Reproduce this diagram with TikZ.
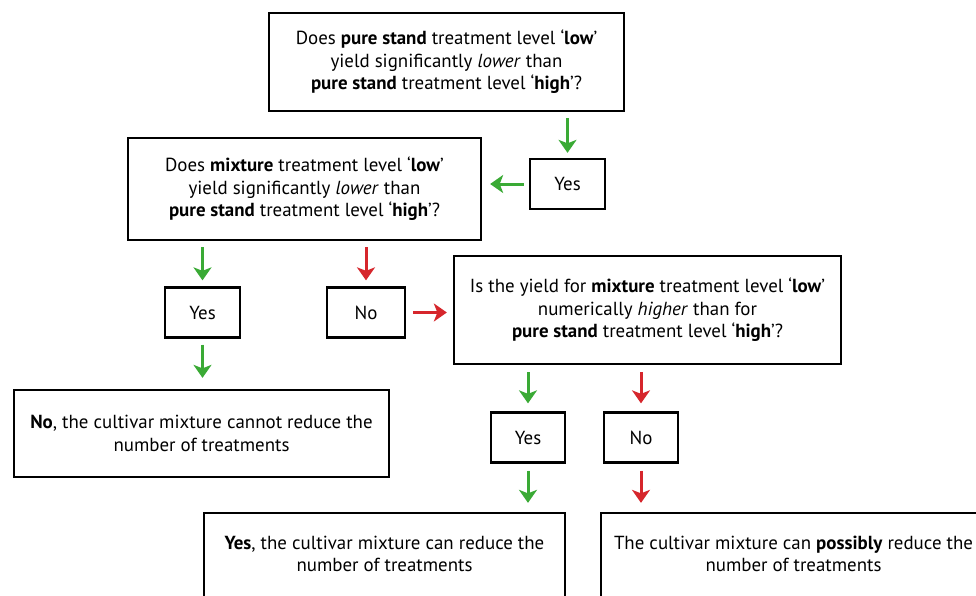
\documentclass[tikz,border=0pt]{standalone}
\usepackage{fontspec}
\setmainfont{PT Sans}
\usetikzlibrary{arrows.meta}
\definecolor{arrgreen}{RGB}{58,170,53}
\definecolor{arrred}{RGB}{214,38,44}
\begin{document}
\begin{tikzpicture}[x=1pt,y=-1pt,
  box/.style={draw, line width=2.3pt, align=center, inner sep=0pt,
    font=\fontsize{18.9}{22.6}\selectfont},
  arrbase/.style={line width=3pt, -{Stealth[width=18pt,length=13pt,inset=3.5pt]}},
  garr/.style={arrbase, draw=arrgreen, fill=arrgreen},
  rarr/.style={arrbase, draw=arrred, fill=arrred}]
\useasboundingbox (0,0) rectangle (976,596);
\clip (0,0) rectangle (976,596);
\fill[white] (0,0) rectangle (976,596);

\node[box, minimum width=355pt, minimum height=98pt] (q1) at (446.5,62)
  {Does \textbf{pure stand} treatment level ‘\textbf{low}’\\
   yield significantly \emph{lower} than\\
   \textbf{pure stand} treatment level ‘\textbf{high}’?};
\node[box, minimum width=75pt, minimum height=50pt] (y1) at (567.5,184) {Yes};
\node[box, minimum width=353pt, minimum height=102pt] (q2) at (304.5,189)
  {Does \textbf{mixture} treatment level ‘\textbf{low}’\\
   yield significantly \emph{lower} than\\
   \textbf{pure stand} treatment level ‘\textbf{high}’?};
\node[box, minimum width=75pt, minimum height=50pt] (y2) at (202.5,312.5) {Yes};
\node[box, minimum width=78pt, minimum height=50pt] (n2) at (366,312.5) {No};
\node[box, minimum width=387pt, minimum height=108pt] (q3) at (647.5,310)
  {Is the yield for \textbf{mixture} treatment level ‘\textbf{low}’\\
   numerically \emph{higher} than for\\
   \textbf{pure stand} treatment level ‘\textbf{high}’?};
\node[box, minimum width=375pt, minimum height=87pt] (r1) at (201.5,433.5)
  {\textbf{No}, the cultivar mixture cannot reduce the\\ number of treatments};
\node[box, minimum width=74pt, minimum height=50pt] (y3) at (528,437.5) {Yes};
\node[box, minimum width=74pt, minimum height=50pt] (n3) at (641,437.5) {No};
\node[box, minimum width=361pt, minimum height=104pt] (r2) at (384.5,565)
  {\textbf{Yes}, the cultivar mixture can reduce the\\ number of treatments\\ \mbox{}};
\node[box, minimum width=385pt, minimum height=104pt] (r3) at (793.5,565)
  {The cultivar mixture can \textbf{possibly} reduce the\\ number of treatments\\ \mbox{}};

\draw[garr, shorten <=6pt, shorten >=5pt] (q1.south -| y1.north) -- (y1.north);
\draw[garr, shorten <=5pt, shorten >=8pt] (y1.west) -- (q2.east |- y1.west);
\draw[garr, shorten <=6pt, shorten >=6pt] (q2.south -| y2.north) -- (y2.north);
\draw[rarr, shorten <=6pt, shorten >=6pt] (q2.south -| n2.north) -- (n2.north);
\draw[garr, shorten <=6pt, shorten >=11pt] (y2.south) -- (r1.north -| y2.south);
\draw[rarr, shorten <=7pt, shorten >=6pt] (n2.east) -- (q3.west |- n2.east);
\draw[garr, shorten <=7pt, shorten >=8pt] (q3.south -| y3.north) -- (y3.north);
\draw[rarr, shorten <=7pt, shorten >=8pt] (q3.south -| n3.north) -- (n3.north);
\draw[garr, shorten <=7pt, shorten >=9pt] (y3.south) -- (r2.north -| y3.south);
\draw[rarr, shorten <=7pt, shorten >=9pt] (n3.south) -- (r3.north -| n3.south);
\end{tikzpicture}
\end{document}
